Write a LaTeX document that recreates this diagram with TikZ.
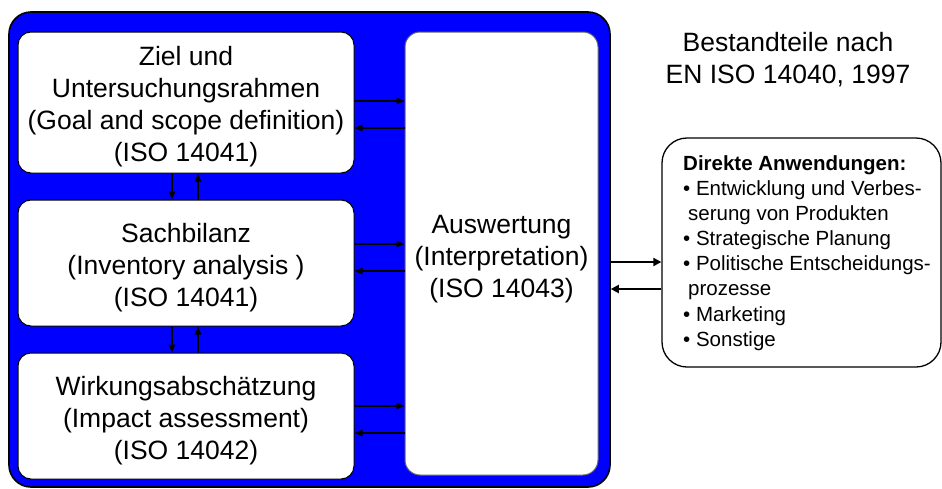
\documentclass[tikz,border=0pt]{standalone}
\usepackage{fontspec}
\setmainfont{Liberation Sans}
\usetikzlibrary{arrows.meta}
\definecolor{pureblue}{RGB}{0,0,255}
\tikzset{
  bigfont/.style={font=\fontsize{26.5}{32}\selectfont},
  smallfont/.style={font=\fontsize{20.5}{25.1}\selectfont},
  phasebox/.style={draw=black, line width=1pt, fill=white, rounded corners=13pt,
    minimum width=336pt, inner sep=0pt},
  boxtext/.style={align=center, bigfont, inner sep=0pt},
  conn/.style={line width=1.2pt, -{Triangle[length=8pt,width=6.5pt]}},
  thickconn/.style={line width=2.5pt, -{Triangle[length=8pt,width=8pt]}},
}
\begin{document}
\begin{tikzpicture}[x=1pt,y=-1pt]
\useasboundingbox (0,0) rectangle (942,488);
% outer blue frame
\node[draw=black, line width=1.6pt, fill=pureblue, rounded corners=22pt,
  minimum width=601pt, minimum height=475pt, inner sep=0pt] (outer) at (309.5,249.5) {};
% phase boxes
\node[phasebox, minimum height=141pt] (ziel) at (186,102.5) {};
\node[boxtext] (zielt) at ([yshift=-4pt]ziel.center)
  {Ziel und\\Untersuchungsrahmen\\(Goal and scope definition)\\(ISO 14041)};
\node[phasebox, minimum height=126pt] (sach) at (186,263) {};
\node[boxtext] (sacht) at ([yshift=-5pt]sach.center)
  {Sachbilanz\\(Inventory analysis )\\(ISO 14041)};
\node[phasebox, minimum height=126pt] (wirk) at (186,416) {};
\node[boxtext] (wirkt) at ([yshift=-5pt]wirk.center)
  {Wirkungsabschätzung\\(Impact assessment)\\(ISO 14042)};
\node[draw=black!60, line width=1pt, fill=white, rounded corners=15pt,
  minimum width=193pt, minimum height=443pt, inner sep=0pt] (ausw) at (501.5,253.5) {};
\node[boxtext] (auswt) at ([yshift=-6pt]ausw.center)
  {Auswertung\\(Interpretation)\\(ISO 14043)};
% title
\node[bigfont, align=center, inner sep=0pt] (title) at (788,60)
  {Bestandteile nach\\EN ISO 14040, 1997};
% applications box
\node[draw=black, line width=1.3pt, fill=white, rounded corners=25pt,
  minimum width=279pt, minimum height=229pt, inner sep=0pt] (anw) at (801.5,252.5) {};
\node[smallfont, align=left, anchor=west, inner sep=0pt] (anwtext) at (683,253)
  {\textbf{Direkte Anwendungen:}\\
   • Entwicklung und Verbes-\\
   \hspace*{5pt}serung von Produkten\\
   • Strategische Planung\\
   • Politische Entscheidungs-\\
   \hspace*{5pt}prozesse\\
   • Marketing\\
   • Sonstige};
% horizontal connectors to Auswertung
\draw[conn] (ziel.east |- 0,101) -- (ausw.west |- 0,101);
\draw[conn] (ausw.west |- 0,128) -- (ziel.east |- 0,128);
\draw[conn] (sach.east |- 0,244) -- (ausw.west |- 0,244);
\draw[conn] (ausw.west |- 0,271) -- (sach.east |- 0,271);
\draw[conn] (wirk.east |- 0,406) -- (ausw.west |- 0,406);
\draw[conn] (ausw.west |- 0,433) -- (wirk.east |- 0,433);
% vertical connectors
\draw[conn] (ziel.south -| 172,0) -- (sach.north -| 172,0);
\draw[conn] (sach.north -| 198,0) -- (ziel.south -| 198,0);
\draw[conn] (sach.south -| 172,0) -- (wirk.north -| 172,0);
\draw[conn] (wirk.north -| 198,0) -- (sach.south -| 198,0);
% outer connectors
\draw[thickconn] (outer.east |- 0,262) -- (anw.west |- 0,262);
\draw[thickconn] (anw.west |- 0,289) -- (outer.east |- 0,289);
\end{tikzpicture}
\end{document}
